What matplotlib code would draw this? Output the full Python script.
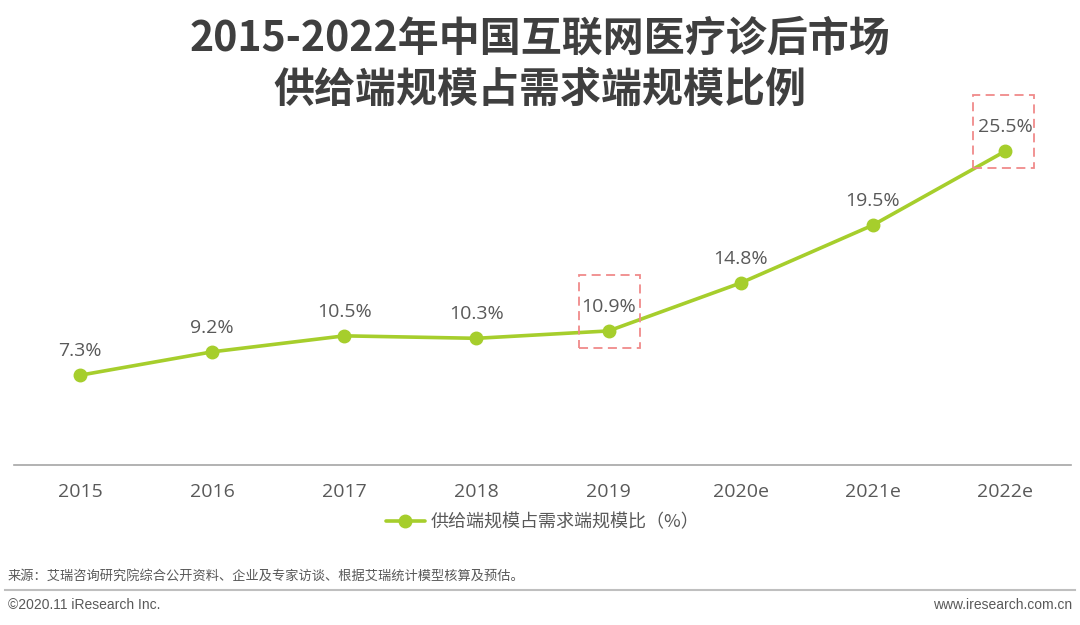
import matplotlib
matplotlib.use("Agg")
import matplotlib.pyplot as plt
from matplotlib.patches import Rectangle

plt.rcParams['font.family'] = ['Open Sans', 'Noto Sans CJK SC', 'DejaVu Sans']

years = ["2015", "2016", "2017", "2018", "2019", "2020e", "2021e", "2022e"]
ratio = [7.3, 9.2, 10.5, 10.3, 10.9, 14.8, 19.5, 25.5]
labels = ["7.3%", "9.2%", "10.5%", "10.3%", "10.9%", "14.8%", "19.5%", "25.5%"]
highlight = [4, 7]
series_name = "供给端规模占需求端规模比（%）"
title = "2015-2022年中国互联网医疗诊后市场\n供给端规模占需求端规模比例"
source = "来源：艾瑞咨询研究院综合公开资料、企业及专家访谈、根据艾瑞统计模型核算及预估。"

W, H = 1080, 625
fig = plt.figure(figsize=(W / 100, H / 100), dpi=100)
fig.patch.set_facecolor("white")

green = "#a6ce2c"
gray_txt = "#595959"

ax = fig.add_axes([14 / W, 160 / H, (1071 - 14) / W, 369 / H])
x = list(range(len(years)))
ax.plot(x, ratio, color=green, lw=2.6, marker="o", ms=9, label=series_name,
        solid_capstyle="round", zorder=3)
ax.set_xlim(-0.5, len(years) - 0.5)
ax.set_ylim(0, 30)
for s in ["top", "right", "left"]:
    ax.spines[s].set_visible(False)
ax.spines["bottom"].set_color("#a6a6a6")
ax.spines["bottom"].set_linewidth(1.2)
ax.set_yticks([])
ax.set_xticks(x)
ax.set_xticklabels(years, fontsize=14, color=gray_txt)
ax.tick_params(axis="x", length=0, pad=13)

for i, (v, t) in enumerate(zip(ratio, labels)):
    ax.annotate(t, (i, v), xytext=(0, 11), textcoords="offset points",
                ha="center", va="bottom", fontsize=14, color=gray_txt)

for i in highlight:
    rect = Rectangle((i - 0.22 - (0.02 if i == 7 else 0), ratio[i] - 1.35),
                     0.46, 5.9, fill=False,
                     ec="#f08a8a", lw=1.3, ls=(0, (5, 3)), zorder=4,
                     clip_on=False)
    ax.add_patch(rect)

leg = ax.legend(loc="center", bbox_to_anchor=(0.5, -0.155), frameon=False,
                handlelength=2.2, handletextpad=0.3,
                prop={'family': ['Noto Sans CJK SC'], 'size': 13})
for t in leg.get_texts():
    t.set_color(gray_txt)

fig.text(0.5, 1 - 64 / H, title, ha="center", va="center", fontsize=29.5,
         fontweight="bold", color="#3f3f3f", linespacing=1.3,
         family=['Noto Sans CJK SC'])

fig.text(8 / W, 1 - 576 / H, source, ha="left", va="center", fontsize=9.5,
         color=gray_txt, family=['Noto Sans CJK SC'])
fig.add_artist(plt.Line2D([5 / W, 1075 / W], [1 - 590 / H, 1 - 590 / H],
                          color="#bfbfbf", lw=1.5))
fig.text(8 / W, 1 - 605 / H, "©2020.11 iResearch Inc.", ha="left", va="center",
         fontsize=10, color=gray_txt, family=['Liberation Sans'])
fig.text(1072 / W, 1 - 605 / H, "www.iresearch.com.cn", ha="right", va="center",
         fontsize=10, color=gray_txt, family=['Liberation Sans'])

fig.savefig("out.png", dpi=100, facecolor="white")
